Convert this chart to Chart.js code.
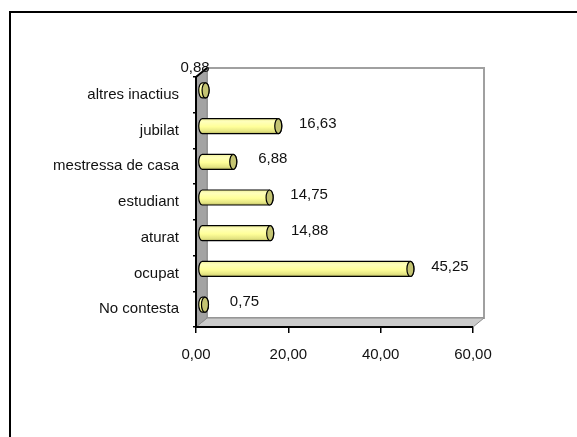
<!DOCTYPE html>
<html>
<head>
<meta charset="utf-8">
<script src="https://cdn.jsdelivr.net/npm/chart.js@4/dist/chart.umd.min.js"></script>
<style>
  html, body { margin: 0; padding: 0; background: #fff; overflow: hidden; }
  canvas { display: block; }
</style>
</head>
<body>
<canvas id="chart" width="577" height="437"></canvas>
<script>
// Situació laboral de les persones enquestades (%)
const categories = ['No contesta', 'ocupat', 'aturat', 'estudiant', 'mestressa de casa', 'jubilat', 'altres inactius'];
const percentages = [0.75, 45.25, 14.88, 14.75, 6.88, 16.63, 0.88];
const xTickValues = [0, 20, 40, 60];

const fmt = v => Number(v).toFixed(2).replace('.', ',');
const FONT = { family: "'Liberation Sans', Arial, sans-serif", size: 15 };
const TEXT = '#111';
const DEPTH_X = 11, DEPTH_Y = -9;   // 3D depth of the plot box

// white page with the black frame around the chart object
const framePlugin = {
  id: 'frame',
  beforeDraw(chart) {
    const ctx = chart.ctx;
    ctx.save();
    ctx.fillStyle = '#fff';
    ctx.fillRect(0, 0, chart.width, chart.height);
    ctx.strokeStyle = '#000';
    ctx.lineWidth = 2;
    ctx.strokeRect(10, 12, chart.width + 20, chart.height + 20);
    ctx.restore();
  }
};

// back wall, floor and side wall of the 3D plot box
const wallsPlugin = {
  id: 'walls',
  beforeDatasetsDraw(chart) {
    const { ctx, chartArea: a } = chart;
    const L = a.left, R = a.right, T = a.top, B = a.bottom;
    ctx.save();
    // back wall
    ctx.fillStyle = '#fff';
    ctx.strokeStyle = '#a0a0a0';
    ctx.lineWidth = 2;
    ctx.beginPath();
    ctx.rect(L + DEPTH_X, T + DEPTH_Y, R - L, B - T);
    ctx.fill();
    ctx.stroke();
    // floor
    ctx.beginPath();
    ctx.moveTo(L, B);
    ctx.lineTo(R, B);
    ctx.lineTo(R + DEPTH_X, B + DEPTH_Y);
    ctx.lineTo(L + DEPTH_X, B + DEPTH_Y);
    ctx.closePath();
    ctx.fillStyle = '#cbcbcb';
    ctx.fill();
    ctx.strokeStyle = '#8c8c8c';
    ctx.lineWidth = 1;
    ctx.stroke();
    // side wall
    ctx.beginPath();
    ctx.moveTo(L, B);
    ctx.lineTo(L, T);
    ctx.lineTo(L + DEPTH_X, T + DEPTH_Y);
    ctx.lineTo(L + DEPTH_X, B + DEPTH_Y);
    ctx.closePath();
    ctx.fillStyle = '#a3a3a3';
    ctx.fill();
    ctx.stroke();
    // front axis lines
    ctx.strokeStyle = '#000';
    ctx.lineWidth = 2;
    ctx.beginPath();
    ctx.moveTo(L + DEPTH_X, T + DEPTH_Y);
    ctx.lineTo(L, T);
    ctx.lineTo(L, B);
    ctx.lineTo(R, B);
    ctx.stroke();
    ctx.restore();
  }
};

function drawCylinder(ctx, x0, x1, yc, h) {
  const ry = h / 2, rx = 3.5;
  const top = yc - ry, bot = yc + ry;
  const g = ctx.createLinearGradient(0, top, 0, bot);
  g.addColorStop(0, '#eeee99');
  g.addColorStop(0.2, '#ffffbb');
  g.addColorStop(0.55, '#ffff99');
  g.addColorStop(0.85, '#e4e482');
  g.addColorStop(1, '#b9b960');
  ctx.beginPath();
  ctx.moveTo(x0, top);
  ctx.lineTo(x1, top);
  ctx.ellipse(x1, yc, rx, ry, 0, -Math.PI / 2, Math.PI / 2);
  ctx.lineTo(x0, bot);
  ctx.ellipse(x0, yc, rx, ry, 0, Math.PI / 2, Math.PI * 1.5);
  ctx.closePath();
  ctx.fillStyle = g;
  ctx.fill();
  ctx.strokeStyle = '#000';
  ctx.lineWidth = 1.2;
  ctx.stroke();
  // end cap
  ctx.beginPath();
  ctx.ellipse(x1, yc, rx, ry, 0, 0, Math.PI * 2);
  ctx.fillStyle = '#c4c472';
  ctx.fill();
  ctx.stroke();
}

// cylinders placed in the middle of the box depth, plus value labels
const cylinderPlugin = {
  id: 'cylinders',
  afterDatasetsDraw(chart) {
    const ctx = chart.ctx;
    const meta = chart.getDatasetMeta(0);
    const xs = chart.scales.x;
    const nudges = { 6: { dx: -50, dy: -20 } };
    ctx.save();
    meta.data.forEach((bar, i) => {
      const p = bar.getProps(['x', 'y', 'base', 'height'], true);
      const v = chart.data.datasets[0].data[i];
      drawCylinder(ctx, p.base + DEPTH_X / 2, p.x + DEPTH_X / 2, p.y + DEPTH_Y / 2, p.height);
    });
    ctx.font = `${FONT.size}px ${FONT.family}`;
    ctx.fillStyle = TEXT;
    ctx.textAlign = 'center';
    ctx.textBaseline = 'middle';
    meta.data.forEach((bar, i) => {
      const v = chart.data.datasets[0].data[i];
      const n = nudges[i] || { dx: 0, dy: 0 };
      const x = xs.getPixelForValue(v) + 45 + n.dx;
      const y = bar.y - 7 + n.dy;
      ctx.fillText(fmt(v), x, y);
    });
    ctx.restore();
  }
};

new Chart(document.getElementById('chart'), {
  type: 'bar',
  data: {
    labels: categories,
    datasets: [{
      data: percentages,
      backgroundColor: 'rgba(0,0,0,0)',
      borderWidth: 0,
      barThickness: 15
    }]
  },
  options: {
    indexAxis: 'y',
    responsive: false,
    animation: false,
    events: [],
    layout: { padding: { top: 77, right: 104, left: 0, bottom: 0 } },
    plugins: {
      legend: { display: false },
      tooltip: { enabled: false }
    },
    scales: {
      x: {
        type: 'linear',
        min: 0,
        max: 60,
        afterBuildTicks: s => { s.ticks = xTickValues.map(v => ({ value: v })); },
        afterFit: s => { s.height = 110; },
        border: { display: false },
        grid: { drawOnChartArea: false, drawTicks: true, tickLength: 6, color: '#000', lineWidth: 1.5 },
        ticks: { callback: v => fmt(v), font: FONT, color: TEXT, padding: 13, maxRotation: 0 }
      },
      y: {
        type: 'category',
        reverse: true,
        afterFit: s => { s.width = 196; },
        border: { display: false },
        grid: { drawOnChartArea: false, drawTicks: true, tickLength: 3, color: '#000', lineWidth: 1.5, offset: true },
        ticks: { font: FONT, color: TEXT, padding: 14 }
      }
    }
  },
  plugins: [framePlugin, wallsPlugin, cylinderPlugin]
});
</script>
</body>
</html>
